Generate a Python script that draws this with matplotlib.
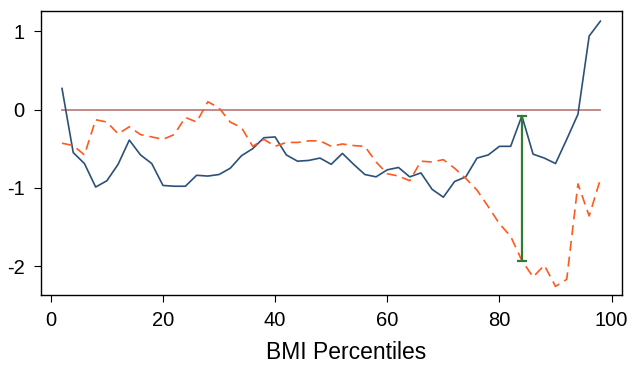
import numpy as np
import matplotlib
matplotlib.use("Agg")
import matplotlib.pyplot as plt

# BMI percentiles 2..98
percentiles = list(range(2, 100, 2))

solid_vals = [0.27, -0.55, -0.69, -0.99, -0.91, -0.70, -0.39, -0.58, -0.69, -0.97,
              -0.98, -0.98, -0.84, -0.85, -0.83, -0.75, -0.59, -0.50, -0.36, -0.35,
              -0.58, -0.66, -0.65, -0.62, -0.70, -0.56, -0.70, -0.83, -0.86, -0.77,
              -0.74, -0.86, -0.81, -1.02, -1.12, -0.92, -0.86, -0.62, -0.58, -0.47,
              -0.47, -0.08, -0.57, -0.62, -0.69, -0.38, -0.06, 0.94, 1.13]

dashed_vals = [-0.43, -0.46, -0.58, -0.13, -0.16, -0.31, -0.22, -0.32, -0.35, -0.38,
               -0.32, -0.10, -0.16, 0.10, 0.02, -0.16, -0.23, -0.47, -0.38, -0.47,
               -0.42, -0.42, -0.40, -0.40, -0.47, -0.44, -0.46, -0.47, -0.67, -0.82,
               -0.85, -0.91, -0.66, -0.67, -0.64, -0.75, -0.88, -1.03, -1.24, -1.46,
               -1.62, -1.93, -2.14, -1.99, -2.26, -2.17, -0.95, -1.36, -0.89]

gap_x = 84
gap_top = -0.08
gap_bottom = -1.93

plt.rcParams['font.family'] = ['Liberation Sans', 'DejaVu Sans']
plt.rcParams['axes.unicode_minus'] = False

fig = plt.figure(figsize=(6.32, 3.66), dpi=100)
ax = fig.add_axes([0.0644, 0.194, 0.9193, 0.776])

ax.plot([percentiles[0], percentiles[-1]], [0, 0], color='#c07f7f', lw=1.3)
ax.plot(percentiles, solid_vals, color='#2b5079', lw=1.2)
ax.plot(percentiles, dashed_vals, color='#ff5a1e', lw=1.2, dashes=(6, 3.5))
ax.errorbar([gap_x], [(gap_top + gap_bottom) / 2],
            yerr=[[(gap_top - gap_bottom) / 2]], color='#2f7d32',
            lw=1.6, capsize=3.5, capthick=1.6, fmt='none')

ax.set_xlim(-1.8, 101.8)
ax.set_ylim(-2.37, 1.26)
ax.set_xticks([0, 20, 40, 60, 80, 100])
ax.set_yticks([1, 0, -1, -2])
ax.tick_params(labelsize=14.5, length=5, width=0.8, direction='out', pad=6.5)
ax.set_xlabel('BMI Percentiles', fontsize=16.5)
ax.xaxis.set_label_coords(0.525, -0.162)
for s in ax.spines.values():
    s.set_linewidth(1.0)

fig.savefig('out.png', dpi=100)
